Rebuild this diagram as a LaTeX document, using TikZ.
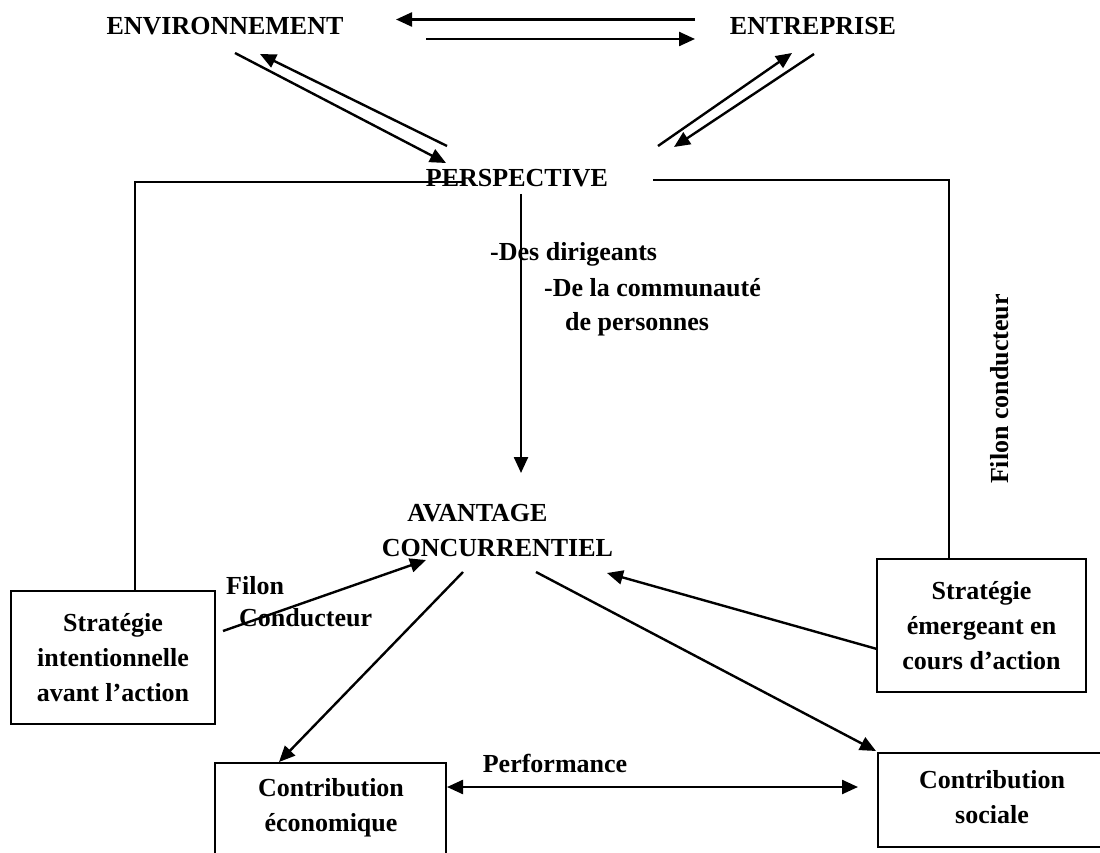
\documentclass[tikz,border=0pt]{standalone}
\usepackage{fontspec}
\setmainfont{Liberation Serif}
\usetikzlibrary{arrows.meta}
\begin{document}
\begin{tikzpicture}[x=1pt,y=-1pt,
  lbl/.style={font=\bfseries\fontsize{26}{35}\selectfont, inner sep=0pt, align=center},
  frame/.style={draw, line width=2.3pt, inner sep=0pt},
  link/.style={line width=2.4pt},
  arr/.style={link, -{Triangle[length=16pt,width=14pt]}},
  darr/.style={link, {Triangle[length=16pt,width=14pt]}-{Triangle[length=16pt,width=14pt]}}]
\useasboundingbox (0,0) rectangle (1100,853);
\clip (0,0) rectangle (1100,853);

% main labels
\node[lbl] (env) at (225,26) {ENVIRONNEMENT};
\node[lbl] (ent) at (813,26) {ENTREPRISE};
\node[lbl] (persp) at (517,178) {PERSPECTIVE};
\node[lbl, anchor=base west] (dir) at (490,260) {-Des dirigeants};
\node[lbl, anchor=base west] (comm) at (544,296) {-De la communauté};
\node[lbl, anchor=base west] (pers) at (565,330) {de personnes};
\node[lbl] (adv1) at (477.5,513) {AVANTAGE};
\node[lbl] (adv2) at (497.5,548) {CONCURRENTIEL};
\node[lbl, anchor=base west] (fil1) at (226,594) {Filon};
\node[lbl, anchor=base west] (fil2) at (239,626) {Conducteur};
\node[lbl, rotate=90] (fil3) at (1000,389) {Filon conducteur};
\node[lbl, anchor=base] (perf) at (555,772) {Performance};

% boxes
\node[frame, lbl, minimum width=204pt, minimum height=133pt] (sint) at (113,657.5)
  {Stratégie\\intentionnelle\\avant l’action};
\node[frame, lbl, minimum width=209pt, minimum height=133pt] (semg) at (981.5,625.5)
  {Stratégie\\émergeant en\\cours d’action};
\node[frame, minimum width=231pt, minimum height=140pt, anchor=north] (econ) at (330.5,762) {};
\node[lbl] (econt) at (331,807.5) {Contribution\\économique};
\node[frame, minimum width=260pt, minimum height=94pt, anchor=north west] (soc) at (877,752) {};
\node[lbl] (soct) at (992,797) {Contribution\\sociale};

% arrow end points
\coordinate (a1) at (695,19.5);  \coordinate (a2) at (396,19.5);
\coordinate (b1) at (426,39);    \coordinate (b2) at (695,39);
\coordinate (c1) at (235,53);    \coordinate (c2) at (446,163);
\coordinate (d1) at (447,146);   \coordinate (d2) at (260,54);
\coordinate (e1) at (658,146);   \coordinate (e2) at (792,53);
\coordinate (f1) at (814,54);    \coordinate (f2) at (674,147);
\coordinate (gl) at (135,182);   \coordinate (gr) at (463,182);
\coordinate (hr) at (949,180);   \coordinate (hl) at (653,180);
\coordinate (v1) at (521,194);   \coordinate (v2) at (521,473);
\coordinate (i1) at (223,631);   \coordinate (i2) at (426,560);
\coordinate (j1) at (463,572);   \coordinate (j2) at (279,762);
\coordinate (k1) at (536,572);   \coordinate (k2) at (876,751);
\coordinate (l1) at (877,649);   \coordinate (l2) at (607,573);
\coordinate (p1) at (447,787);   \coordinate (p2) at (858,787);

% environment / enterprise exchanges
\draw[arr] (a1) -- (a2);
\draw[arr] (b1) -- (b2);
\draw[arr] (c1) -- (c2);
\draw[arr] (d1) -- (d2);
\draw[arr] (e1) -- (e2);
\draw[arr] (f1) -- (f2);

% guiding lines to the strategy boxes
\draw[link] (sint.north -| gl) -- (gl) -- (gr);
\draw[link] (semg.north -| hr) -- (hr) -- (hl);

% perspective to competitive advantage
\draw[arr] (v1) -- (v2);
\draw[arr] (i1) -- (i2);
\draw[arr] (l1) -- (l2);
\draw[arr] (j1) -- (j2);
\draw[arr] (k1) -- (k2);
\draw[darr] (p1) -- (p2);
\end{tikzpicture}
\end{document}
